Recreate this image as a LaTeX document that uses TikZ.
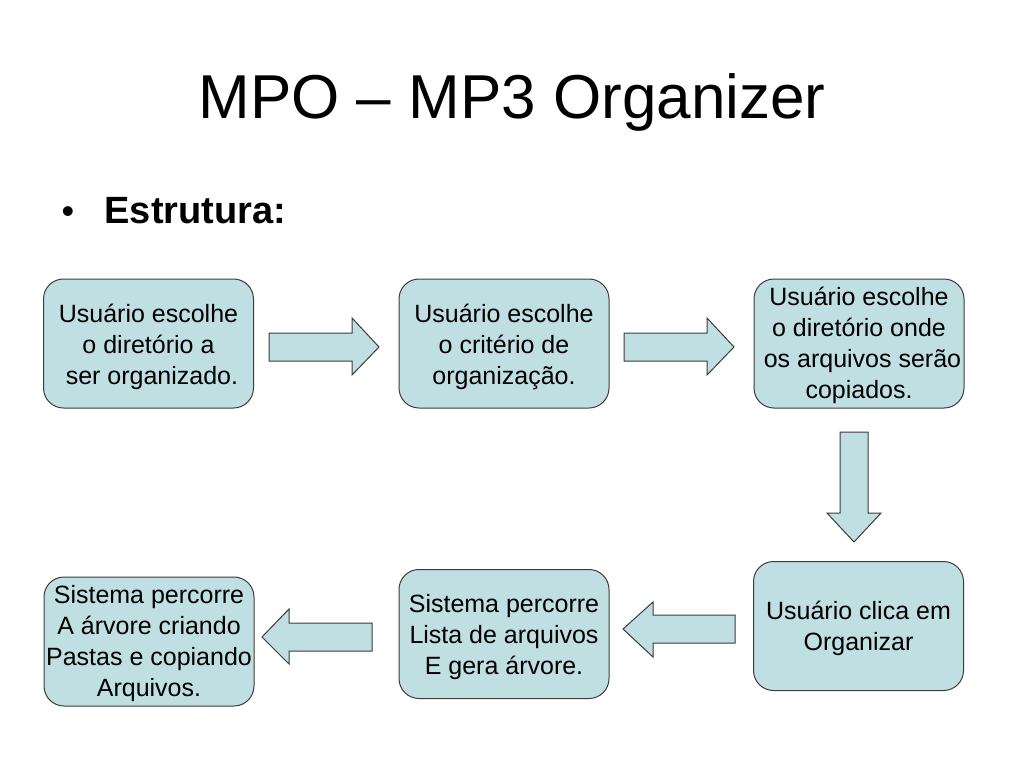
\documentclass[tikz,border=0pt]{standalone}
\usepackage{fontspec}
\setmainfont{Liberation Sans}
\definecolor{boxfill}{RGB}{191,223,227}
\definecolor{boxline}{RGB}{60,60,60}
\begin{document}
\begin{tikzpicture}[x=1pt,y=-1pt,
  flowbox/.style={draw=boxline, line width=1pt, fill=boxfill, rounded corners=20pt,
    minimum width=210pt, minimum height=129pt, inner sep=0pt},
  boxtext/.style={inner sep=0pt, align=center, font=\fontsize{25}{31}\selectfont},
  blockarrow/.style={draw=boxline, line width=1pt, fill=boxfill, line join=miter}]
\useasboundingbox[fill=white] (0,0) rectangle (1024,768);
% title and bullet
\node[anchor=base, font=\fontsize{62}{70}\selectfont] (title) at (512,118) {MPO – MP3 Organizer};
\node[anchor=base west, font=\fontsize{36}{44}\selectfont] (bullet) at (58,223) {•};
\node[anchor=base west, font=\fontsize{38}{44}\selectfont\bfseries] (estr) at (101,223) {Estrutura:};
% boxes
\node[flowbox] (b1) at (148.5,343.5) {};
\node[flowbox] (b2) at (504,343.5) {};
\node[flowbox] (b3) at (859,343.5) {};
\node[flowbox] (b4) at (858.5,626) {};
\node[flowbox] (b5) at (504,634) {};
\node[flowbox] (b6) at (149,641.5) {};
\node[boxtext] (t1) at ([yshift=-3pt]b1.center) {Usuário escolhe\\o diretório a\\\ ser organizado.};
\node[boxtext] (t2) at ([yshift=-3pt]b2.center) {Usuário escolhe\\o critério de\\organização.};
\node[boxtext] (t3) at ([yshift=-2pt]b3.center) {Usuário escolhe\\o diretório onde\\\ os arquivos serão\\copiados.};
\node[boxtext] (t4) at ([yshift=-2pt]b4.center) {Usuário clica em\\Organizar};
\node[boxtext] (t5) at ([yshift=-3pt]b5.center) {Sistema percorre\\Lista de arquivos\\E gera árvore.};
\node[boxtext] (t6) at ([yshift=-2pt]b6.center) {Sistema percorre\\A árvore criando\\Pastas e copiando\\Arquivos.};
% block arrows
\draw[blockarrow] (269,333) -- (352,333) -- (352,318) -- (379,347) -- (352,375) -- (352,361) -- (269,361) -- cycle;
\draw[blockarrow] (624,333) -- (707,333) -- (707,318) -- (734,347) -- (707,375) -- (707,361) -- (624,361) -- cycle;
\draw[blockarrow] (840,432) -- (868,432) -- (868,513) -- (881,513) -- (854,542) -- (827,513) -- (840,513) -- cycle;
\draw[blockarrow] (735,615) -- (653,615) -- (653,602) -- (623,629) -- (653,657) -- (653,643) -- (735,643) -- cycle;
\draw[blockarrow] (372,623) -- (289,623) -- (289,609) -- (262,637) -- (289,664) -- (289,651) -- (372,651) -- cycle;
\end{tikzpicture}
\end{document}
